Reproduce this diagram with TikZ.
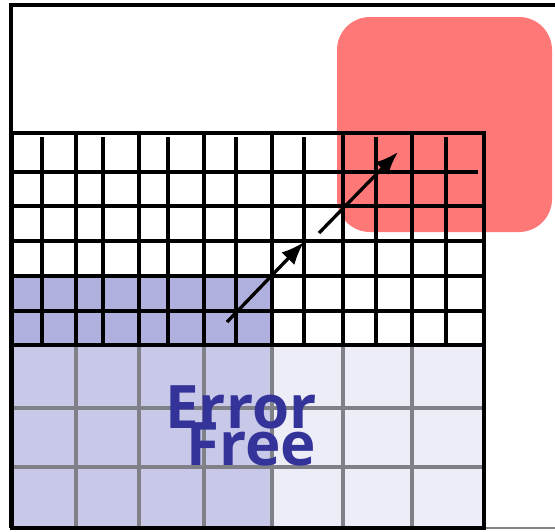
\documentclass[tikz,border=0pt]{standalone}
\usepackage{fontspec}
\setsansfont{Open Sans}
\usetikzlibrary{arrows.meta}

\definecolor{errred}{HTML}{FF7878}
\definecolor{finefill}{HTML}{B0B0DE}
\definecolor{coarseleft}{HTML}{C8C8E8}
\definecolor{coarseright}{HTML}{EDEDF7}
\definecolor{coarsegray}{HTML}{808088}
\definecolor{errblue}{HTML}{333399}

\begin{document}
\begin{tikzpicture}[x=1pt,y=-1pt,
		fineline/.style={line width=3.3pt,black},
		coarseline/.style={line width=3.3pt,coarsegray},
		border/.style={line width=3.6pt,black},
		flow/.style={line width=3.3pt,-{Latex[length=23pt,width=18pt]}},
		label/.style={font=\sffamily\bfseries\fontsize{60}{60}\selectfont,text=errblue,anchor=base,inner sep=0pt}]
		\useasboundingbox (0,0) rectangle (555,531);
		
		% outer frame
		\draw[border] (555,5) -- (11,5) -- (11,528);
		\draw[line width=2pt,coarsegray] (484,528) -- (555,528);
		
		% red region
		\fill[errred, rounded corners=33pt] (337,17) rectangle (552,232);
		
		% fills
		\fill[finefill] (12,276) rectangle (272,345);
		\fill[coarseleft] (12,345) rectangle (272,528);
		\fill[coarseright] (272,345) rectangle (484,528);
		
		% coarse grid
		\foreach \x in {76,139,204,272,343,412}
		{   \draw[coarseline] (\x,345) -- (\x,528);
		}
		\foreach \y in {408,467}
		{   \draw[coarseline] (12,\y) -- (484,\y);
		}
		
		% fine grid
		\foreach \x in {76,139,204,272,343,412}
		{   \draw[fineline] (\x,133) -- (\x,345);
		}
		\foreach \x in {42,103,168,236,304,376,446}
		{   \draw[fineline] (\x,137) -- (\x,343);
		}
		\foreach \y in {206,241,276,311}
		{   \draw[fineline] (12,\y) -- (484,\y);
		}
		\draw[fineline] (12,172) -- (478,172);
		
		% borders
		\draw[border] (12,133) rectangle (484,528);
		\draw[border] (12,345) -- (484,345);
		
		% arrows
		\coordinate (stepA) at (227,322);
		\coordinate (stepB) at (304,242);
		\coordinate (stepC) at (319,233);
		\coordinate (stepD) at (398,152);
		\draw[flow] (stepA) -- (stepB);
		\draw[flow] (stepC) -- (stepD);
		
		% label
		\node[label] (err) at (241,428) {Error};
		\node[label] (free) at (251,465) {Free};
		
	\end{tikzpicture}
\end{document}
